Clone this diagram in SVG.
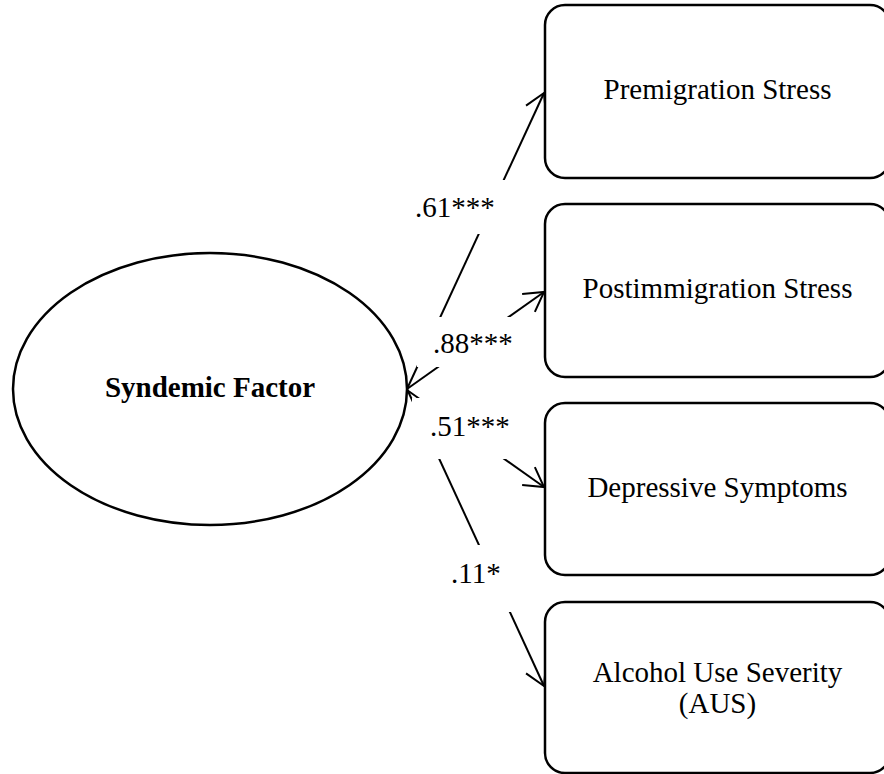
<svg xmlns="http://www.w3.org/2000/svg" width="884" height="774" viewBox="0 0 884 774">
<style>
.box{fill:#fff;stroke:#000;stroke-width:2.5}
.ell{fill:#fff;stroke:#000;stroke-width:2.5}
.t{font-family:"Liberation Serif","Times New Roman",serif;font-size:29px;fill:#000}
.tc{text-anchor:middle}
.b{font-weight:bold}
.edge{stroke:#000;stroke-width:2;fill:none}
.lbl{fill:#fff;stroke:none}
</style>
<defs>
<marker id="arr" markerUnits="userSpaceOnUse" markerWidth="24" markerHeight="26" refX="21" refY="12" orient="auto" viewBox="0 0 24 26">
<path d="M2,1 L21,12 L2,23" fill="none" stroke="#000" stroke-width="2"/>
</marker>
</defs>
<rect width="884" height="774" fill="#fff"/>
<g id="connectors">
<line class="edge" x1="407" y1="389" x2="544" y2="93" marker-end="url(#arr)"/>
<line class="edge" x1="407" y1="389" x2="544" y2="292" marker-end="url(#arr)"/>
<line class="edge" x1="407" y1="390" x2="544" y2="487" marker-end="url(#arr)"/>
<line class="edge" x1="407" y1="389" x2="544" y2="686" marker-end="url(#arr)"/>
<g id="label-61"><rect class="lbl" x="405" y="180" width="110" height="54"/><text class="t" x="415" y="217">.61***</text></g>
<g id="label-88"><rect class="lbl" x="417" y="317" width="100" height="50"/><text class="t" x="433" y="353">.88***</text></g>
<g id="label-51"><rect class="lbl" x="412" y="398" width="100" height="61"/><text class="t" x="430" y="436">.51***</text></g>
<g id="label-11"><rect class="lbl" x="440" y="545" width="75" height="67"/><text class="t" x="451" y="583">.11*</text></g>
</g>
<g id="syndemic">
<ellipse class="ell" cx="210" cy="389" rx="197" ry="136"/>
<text class="t tc b" x="210" y="397">Syndemic Factor</text>
</g>
<g id="premigration">
<rect class="box" x="545" y="5" width="345" height="173" rx="20"/>
<text class="t tc" x="717.5" y="99">Premigration Stress</text>
</g>
<g id="postimmigration">
<rect class="box" x="545" y="204" width="345" height="173" rx="20"/>
<text class="t tc" x="717.5" y="298">Postimmigration Stress</text>
</g>
<g id="depressive">
<rect class="box" x="545" y="403" width="345" height="172" rx="20"/>
<text class="t tc" x="717.5" y="497">Depressive Symptoms</text>
</g>
<g id="alcohol">
<rect class="box" x="545" y="602" width="345" height="171" rx="20"/>
<text class="t tc" x="717.5" y="682">Alcohol Use Severity</text>
<text class="t tc" x="717.5" y="713">(AUS)</text>
</g>
</svg>
